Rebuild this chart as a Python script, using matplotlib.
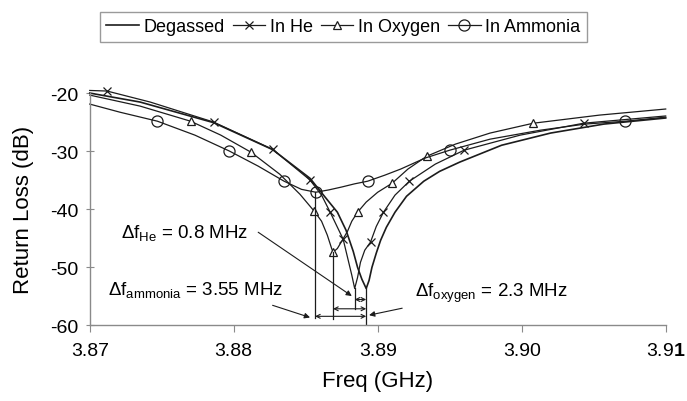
import numpy as np
import matplotlib.pyplot as plt

plt.rcParams['font.family'] = ['Liberation Sans', 'DejaVu Sans']
plt.rcParams['mathtext.fontset'] = 'custom'
plt.rcParams['mathtext.rm'] = 'Liberation Sans'
plt.rcParams['mathtext.it'] = 'Liberation Sans:italic'
plt.rcParams['mathtext.bf'] = 'Liberation Sans:bold'
plt.rcParams['axes.unicode_minus'] = False

# return loss curves, freq in GHz, return loss in dB
freq_degassed = [3.8700, 3.8735, 3.8786, 3.8827, 3.8853, 3.8863, 3.8872, 3.8878, 3.8883,
                 3.8886, 3.8889, 3.8892, 3.8894, 3.8896, 3.8899, 3.8902, 3.8906, 3.8912,
                 3.8920, 3.8932, 3.8943, 3.8957, 3.8986, 3.9020, 3.9057, 3.9100]
rl_degassed = [-20.0, -21.55, -25.1, -29.75, -34.7, -37.8, -40.55, -43.65, -47.3,
               -50.05, -52.1, -53.7, -52.3, -50.05, -47.6, -45.4, -43.15, -40.55,
               -37.8, -35.2, -33.5, -31.9, -29.0, -26.9, -25.35, -24.3]

freq_he = [3.8700, 3.8712, 3.8742, 3.8786, 3.8827, 3.8853, 3.8861, 3.8867, 3.8876, 3.8879,
           3.8882, 3.8884, 3.8886, 3.8888, 3.8891, 3.8895, 3.8899, 3.8904, 3.8912, 3.8922,
           3.8940, 3.8960, 3.8999, 3.9043, 3.9100]
rl_he = [-19.55, -19.65, -21.55, -25.0, -29.7, -35.0, -37.6, -40.55, -45.2, -48.3,
         -51.4, -53.7, -51.8, -49.2, -47.1, -45.7, -43.0, -40.55, -37.6, -35.2,
         -32.25, -29.85, -27.25, -25.2, -23.95]
marks_he = [1, 3, 4, 5, 7, 8, 15, 17, 19, 21, 23]

freq_o2 = [3.8700, 3.8735, 3.8770, 3.8791, 3.8812, 3.8832, 3.8846, 3.8856, 3.8861, 3.8865,
           3.8868, 3.8869, 3.8872, 3.8875, 3.8879, 3.8882, 3.8886, 3.8892, 3.8900, 3.8910,
           3.8921, 3.8934, 3.8954, 3.8978, 3.9008, 3.9054, 3.9100]
rl_o2 = [-20.35, -22.25, -24.85, -27.25, -30.2, -34.0, -37.45, -40.4, -42.1, -44.5,
         -46.8, -47.45, -46.8, -45.55, -43.85, -42.1, -40.55, -38.8, -37.1, -35.55,
         -33.1, -30.9, -28.8, -26.9, -25.2, -23.8, -22.75]
marks_o2 = [2, 4, 7, 11, 16, 19, 21, 24]

freq_nh3 = [3.8700, 3.8721, 3.8747, 3.8773, 3.8797, 3.8817, 3.8835, 3.8847, 3.8857, 3.8866,
            3.8875, 3.8884, 3.8893, 3.8905, 3.8916, 3.8933, 3.8950, 3.8978, 3.9013, 3.9044,
            3.9072, 3.9100]
rl_nh3 = [-21.9, -23.3, -24.85, -27.25, -30.0, -32.6, -35.2, -36.6, -37.1, -36.7,
          -36.2, -35.65, -35.2, -34.15, -33.1, -31.2, -29.85, -27.95, -26.4, -25.35,
          -24.85, -24.15]
marks_nh3 = [2, 4, 6, 8, 12, 16, 20]

# resonance shifts relative to the degassed sample (MHz)
f_res_degassed = 3.8892
shift_he = 0.8
shift_o2 = 2.3
shift_nh3 = 3.55

ink = '#1c1c1c'
axis_grey = '#8a8a8a'

fig = plt.figure(figsize=(6.87, 4.02), dpi=100)
ax = fig.add_axes([0.1306, 0.189, 0.8384, 0.577])

ax.plot(freq_degassed, rl_degassed, color=ink, lw=1.2, label='Degassed', clip_on=False)
ax.plot(freq_he, rl_he, color=ink, lw=0.9, marker='x', ms=6, mew=0.9,
        markevery=marks_he, label='In He', clip_on=False)
ax.plot(freq_o2, rl_o2, color=ink, lw=0.9, marker='^', ms=6, mew=0.9, mfc='white',
        markevery=marks_o2, label='In Oxygen', clip_on=False)
ax.plot(freq_nh3, rl_nh3, color=ink, lw=0.9, marker='o', ms=8, mew=0.9, mfc='none',
        markevery=marks_nh3, label='In Ammonia', clip_on=False)

# vertical markers at each resonance
f_he = f_res_degassed - shift_he / 1000
f_o2 = f_res_degassed - shift_o2 / 1000
f_nh3 = f_res_degassed - shift_nh3 / 1000
ax.plot([f_res_degassed, f_res_degassed], [min(rl_degassed), -60], color=ink, lw=0.9)
ax.plot([f_he, f_he], [min(rl_he), -57.3], color=ink, lw=0.9)
ax.plot([f_o2, f_o2], [min(rl_o2), -59.0], color=ink, lw=0.9)
ax.plot([f_nh3, f_nh3], [min(rl_nh3), -58.8], color=ink, lw=0.9)

# double arrows showing each shift
span_style = dict(arrowstyle='<->', lw=0.8, color=ink, shrinkA=0, shrinkB=0, mutation_scale=7)
ax.annotate('', xy=(f_he, -55.6), xytext=(f_res_degassed, -55.6), arrowprops=span_style)
ax.annotate('', xy=(f_o2, -57.2), xytext=(f_res_degassed, -57.2), arrowprops=span_style)
ax.annotate('', xy=(f_nh3, -58.5), xytext=(f_res_degassed, -58.5), arrowprops=span_style)

# labels with pointer arrows
ptr_style = dict(arrowstyle='-|>', lw=0.8, color=ink, shrinkA=0, shrinkB=0, mutation_scale=8)
ax.text(3.8722, -44.0, 'Δ$\\mathrm{f}_{\\mathrm{He}}$ = %.1f MHz' % shift_he,
        fontsize=13.5, va='center', ha='left')
ax.annotate('', xy=(3.8882, -55.0), xytext=(3.8817, -44.0), arrowprops=ptr_style)

ax.text(3.8713, -53.85, 'Δ$\\mathrm{f}_{\\mathrm{ammonia}}$ = %.2f MHz' % shift_nh3,
        fontsize=13.5, va='center', ha='left')
ax.annotate('', xy=(3.8853, -58.7), xytext=(3.8827, -56.6), arrowprops=ptr_style)

ax.text(3.8926, -54.4, 'Δ$\\mathrm{f}_{\\mathrm{oxygen}}$ = %.1f MHz' % shift_o2,
        fontsize=13.5, va='center', ha='left')
ax.annotate('', xy=(3.8894, -58.3), xytext=(3.8917, -57.1), arrowprops=ptr_style)

ax.set_xlim(3.87, 3.91)
ax.set_ylim(-60, -20)
ax.set_xticks([3.87, 3.88, 3.89, 3.90, 3.91])
ax.set_xticklabels(['3.87', '3.88', '3.89', '3.90', '3.9$\\mathbf{1}$'])
ax.set_yticks([-60, -50, -40, -30, -20])

for side in ['top', 'right']:
    ax.spines[side].set_visible(False)
for side in ['left', 'bottom']:
    ax.spines[side].set_color(axis_grey)
    ax.spines[side].set_linewidth(1.0)

ax.tick_params(axis='y', direction='inout', length=6, color=axis_grey, labelsize=14, pad=5)
ax.tick_params(axis='x', direction='out', length=5, color=axis_grey, labelsize=14, pad=7)

ax.set_xlabel('Freq (GHz)', fontsize=16, labelpad=8)
ax.set_ylabel('Return Loss (dB)', fontsize=16, labelpad=12)

fig.legend(loc='upper center', bbox_to_anchor=(0.4996, 0.99), ncol=4, fontsize=13,
           frameon=True, fancybox=False, edgecolor='#9a9a9a', framealpha=1,
           handlelength=1.8, handletextpad=0.25, columnspacing=0.45, borderpad=0.35)

fig.savefig('out.png', dpi=100)
